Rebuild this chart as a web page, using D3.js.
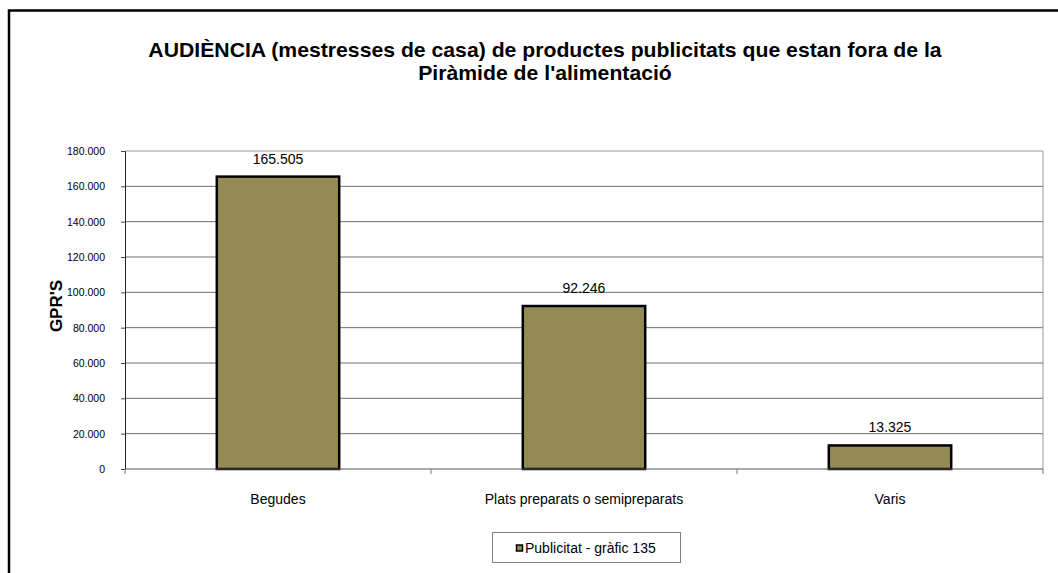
<!DOCTYPE html>
<html>
<head>
<meta charset="utf-8">
<script src="https://cdn.jsdelivr.net/npm/d3@7"></script>
<style>
  body { margin: 0; background: #fff; }
  text { font-family: "Liberation Sans", Arial, sans-serif; }
</style>
</head>
<body>
<div id="chart"></div>
<script>
let categories = ["Begudes", "Plats preparats o semipreparats", "Varis"];
let values = [165505, 92246, 13325];
let yTicks = [0, 20000, 40000, 60000, 80000, 100000, 120000, 140000, 160000, 180000];
let seriesName = "Publicitat - gràfic 135";
let titleLines = ["AUDIÈNCIA (mestresses de casa) de productes publicitats que estan fora de la",
                  "Piràmide de l'alimentació"];

let width = 1058, height = 573;
let plot = {left: 125, right: 1043, top: 151, bottom: 469};
let barColor = "#948a54";

// numbers with dots as thousands separators, like the original
let fmt = d3.formatLocale({decimal: ",", thousands: ".", grouping: [3], currency: ["", ""]}).format(",d");

let svg = d3.select("#chart").append("svg")
    .attr("width", width)
    .attr("height", height);

// outer frame, runs off the right and bottom edge
svg.append("rect")
    .attr("x", 9).attr("y", 10.5)
    .attr("width", width + 20).attr("height", height + 20)
    .attr("fill", "#fff")
    .attr("stroke", "#000")
    .attr("stroke-width", 2.5);

// title - the original is a bit wider than Liberation Sans, so stretch it a little
let titleG = svg.append("g");
let titles = titleG.selectAll("text")
    .data(titleLines)
    .join("text")
    .attr("x", 0)
    .attr("y", (d, i) => 57 + i * 23)
    .attr("text-anchor", "middle")
    .attr("font-size", "19.5px")
    .attr("font-weight", "bold")
    .text(d => d);
let k = 794 / titles.node().getComputedTextLength();
titleG.attr("transform", `translate(545,0) scale(${k},1)`);

let x = d3.scaleBand().domain(categories).range([plot.left, plot.right]).paddingInner(0).paddingOuter(0);
let y = d3.scaleLinear().domain([0, 180000]).range([plot.bottom, plot.top]);

// gridlines
svg.append("g").selectAll("line")
    .data(yTicks.slice(1))
    .join("line")
    .attr("x1", plot.left).attr("x2", plot.right)
    .attr("y1", d => y(d)).attr("y2", d => y(d))
    .attr("stroke", d => d === 180000 ? "#9a9a9a" : "#6e6e6e")
    .attr("stroke-width", 1);

// right edge of plot area
svg.append("line")
    .attr("x1", plot.right).attr("x2", plot.right)
    .attr("y1", plot.top).attr("y2", plot.bottom)
    .attr("stroke", "#9a9a9a");

let yAxis = svg.append("g")
    .attr("transform", `translate(${plot.left},0)`)
    .call(d3.axisLeft(y).tickValues(yTicks).tickFormat(fmt).tickSize(4).tickPadding(16));
yAxis.select(".domain").attr("stroke", "#222");
yAxis.selectAll(".tick line").attr("stroke", "#444");
yAxis.selectAll("text").attr("font-size", "10.5px").attr("font-family", "Liberation Sans, Arial, sans-serif");

svg.append("text")
    .attr("transform", `translate(62,306) rotate(-90)`)
    .attr("text-anchor", "middle")
    .attr("font-size", "17px")
    .attr("font-weight", "bold")
    .text("GPR'S");

// bars
svg.append("g").selectAll("rect")
    .data(values)
    .join("rect")
    .attr("x", (d, i) => x(categories[i]) + x.bandwidth() * 0.3)
    .attr("width", x.bandwidth() * 0.4)
    .attr("y", d => y(d))
    .attr("height", d => y(0) - y(d))
    .attr("fill", barColor)
    .attr("stroke", "#000")
    .attr("stroke-width", 2.5);

// x axis
svg.append("line")
    .attr("x1", plot.left).attr("x2", plot.right)
    .attr("y1", plot.bottom).attr("y2", plot.bottom)
    .attr("stroke", "#555");
svg.append("g").selectAll("line")
    .data(categories.concat(["end"]))
    .join("line")
    .attr("x1", (d, i) => plot.left + i * x.bandwidth())
    .attr("x2", (d, i) => plot.left + i * x.bandwidth())
    .attr("y1", plot.bottom).attr("y2", plot.bottom + 5)
    .attr("stroke", "#777");

svg.append("g").selectAll("text")
    .data(categories)
    .join("text")
    .attr("x", d => x(d) + x.bandwidth() / 2)
    .attr("y", 504)
    .attr("text-anchor", "middle")
    .attr("font-size", "14px")
    .text(d => d);

// value labels
svg.append("g").selectAll("text")
    .data(values)
    .join("text")
    .attr("x", (d, i) => x(categories[i]) + x.bandwidth() / 2)
    .attr("y", d => y(d) - 13)
    .attr("text-anchor", "middle")
    .attr("font-size", "14px")
    .text(d => fmt(d));

// legend
let legend = svg.append("g");
legend.append("rect")
    .attr("x", 492.5).attr("y", 532.5)
    .attr("width", 188).attr("height", 30)
    .attr("fill", "#fff")
    .attr("stroke", "#808080");
legend.append("rect")
    .attr("x", 516.5).attr("y", 545)
    .attr("width", 6).attr("height", 6)
    .attr("fill", barColor)
    .attr("stroke", "#000")
    .attr("stroke-width", 1.5);
legend.append("text")
    .attr("x", 525).attr("y", 553)
    .attr("font-size", "14px")
    .text(seriesName);
</script>
</body>
</html>
